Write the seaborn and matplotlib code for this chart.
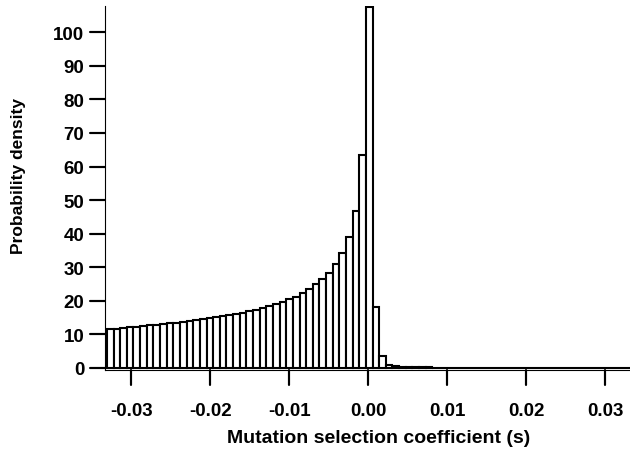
import numpy as np
import pandas as pd
import matplotlib
matplotlib.use("Agg")
import matplotlib.pyplot as plt
import seaborn as sns

# Distribution of mutation selection coefficients (probability density per bin)
bin_width = 0.00084
first_edge = -0.03306

density_deleterious = [
    11.5, 11.7, 11.9, 12.1, 12.3, 12.5, 12.7, 12.9, 13.1, 13.3,
    13.5, 13.7, 14.0, 14.2, 14.5, 14.8, 15.1, 15.4, 15.7, 16.1,
    16.5, 16.9, 17.4, 17.9, 18.4, 19.0, 19.7,
    20.4, 21.2, 22.3, 23.5, 25.0, 26.5, 28.3, 31.0, 34.2, 38.9, 46.7, 63.4,
]
density_neutral = [107.6, 18.1, 3.5]
density_beneficial = [
    1.0, 0.6, 0.4, 0.3, 0.25, 0.2, 0.15, 0.12, 0.1,
    0, 0, 0, 0, 0, 0, 0, 0, 0, 0, 0, 0, 0, 0, 0, 0, 0, 0, 0,
    0, 0, 0, 0, 0, 0, 0, 0, 0,
]
density = density_deleterious + density_neutral + density_beneficial

x_ticks = [-0.03, -0.02, -0.01, 0.00, 0.01, 0.02, 0.03]
x_tick_labels = ["-0.03", "-0.02", "-0.01", "0.00", "0.01", "0.02", "0.03"]
y_ticks = [0, 10, 20, 30, 40, 50, 60, 70, 80, 90, 100]

n_bins = len(density)
edges = [first_edge + bin_width * i for i in range(n_bins + 1)]
centers = [(a + b) / 2 for a, b in zip(edges[:-1], edges[1:])]
df = pd.DataFrame({"s": centers, "density": density})

sns.set_style("ticks", rc={
    "axes.edgecolor": "black",
    "axes.linewidth": 1.8,
    "text.color": "black",
    "axes.labelcolor": "black",
    "xtick.color": "black",
    "ytick.color": "black",
    "xtick.bottom": True,
    "ytick.left": True,
})
plt.rcParams["font.family"] = ["Liberation Sans", "DejaVu Sans"]
plt.rcParams["font.weight"] = "bold"

fig = plt.figure(figsize=(6.3, 4.52), dpi=100)
ax = fig.add_axes([0.1667, 0.1792, 0.8333, 0.8053])

sns.histplot(data=df, x="s", weights="density", bins=edges, stat="count",
             element="bars", fill=True, color="white", edgecolor="black",
             linewidth=1.5, alpha=1.0, ax=ax)

ax.set_xlim(-0.0333, 0.0331)
ax.set_ylim(-0.6, 107.8)
ax.set_xticks(x_ticks, x_tick_labels)
ax.set_yticks(y_ticks)

for side in ("top", "right"):
    ax.spines[side].set_visible(False)

ax.tick_params(axis="both", which="major", length=11, width=1.5,
               color="black", labelsize=13.5)
ax.tick_params(axis="x", pad=12)
ax.tick_params(axis="y", pad=4)
for lbl in ax.get_xticklabels() + ax.get_yticklabels():
    lbl.set_fontweight("bold")

# Outward tick marks drawn along the bottom and left spines
x_mark_len = 15 / 364
y_mark_len = 15 / 525
for xv in x_ticks:
    ax.plot([xv, xv], [0, -x_mark_len], transform=ax.get_xaxis_transform(),
            color="black", linewidth=1.5, clip_on=False, zorder=10)
for yv in y_ticks:
    ax.plot([0, -y_mark_len], [yv, yv], transform=ax.get_yaxis_transform(),
            color="black", linewidth=1.5, clip_on=False, zorder=10)
ax.set_xlim(-0.0333, 0.0331)
ax.set_ylim(-0.6, 107.8)

ax.set_xlabel("Mutation selection coefficient (s)", fontsize=14,
              fontweight="bold")
ax.set_ylabel("Probability density", fontsize=12.5, fontweight="bold")
ax.xaxis.set_label_coords(0.522, -0.162)
ax.yaxis.set_label_coords(-0.150, 0.536)

fig.savefig("out.png", dpi=100)
